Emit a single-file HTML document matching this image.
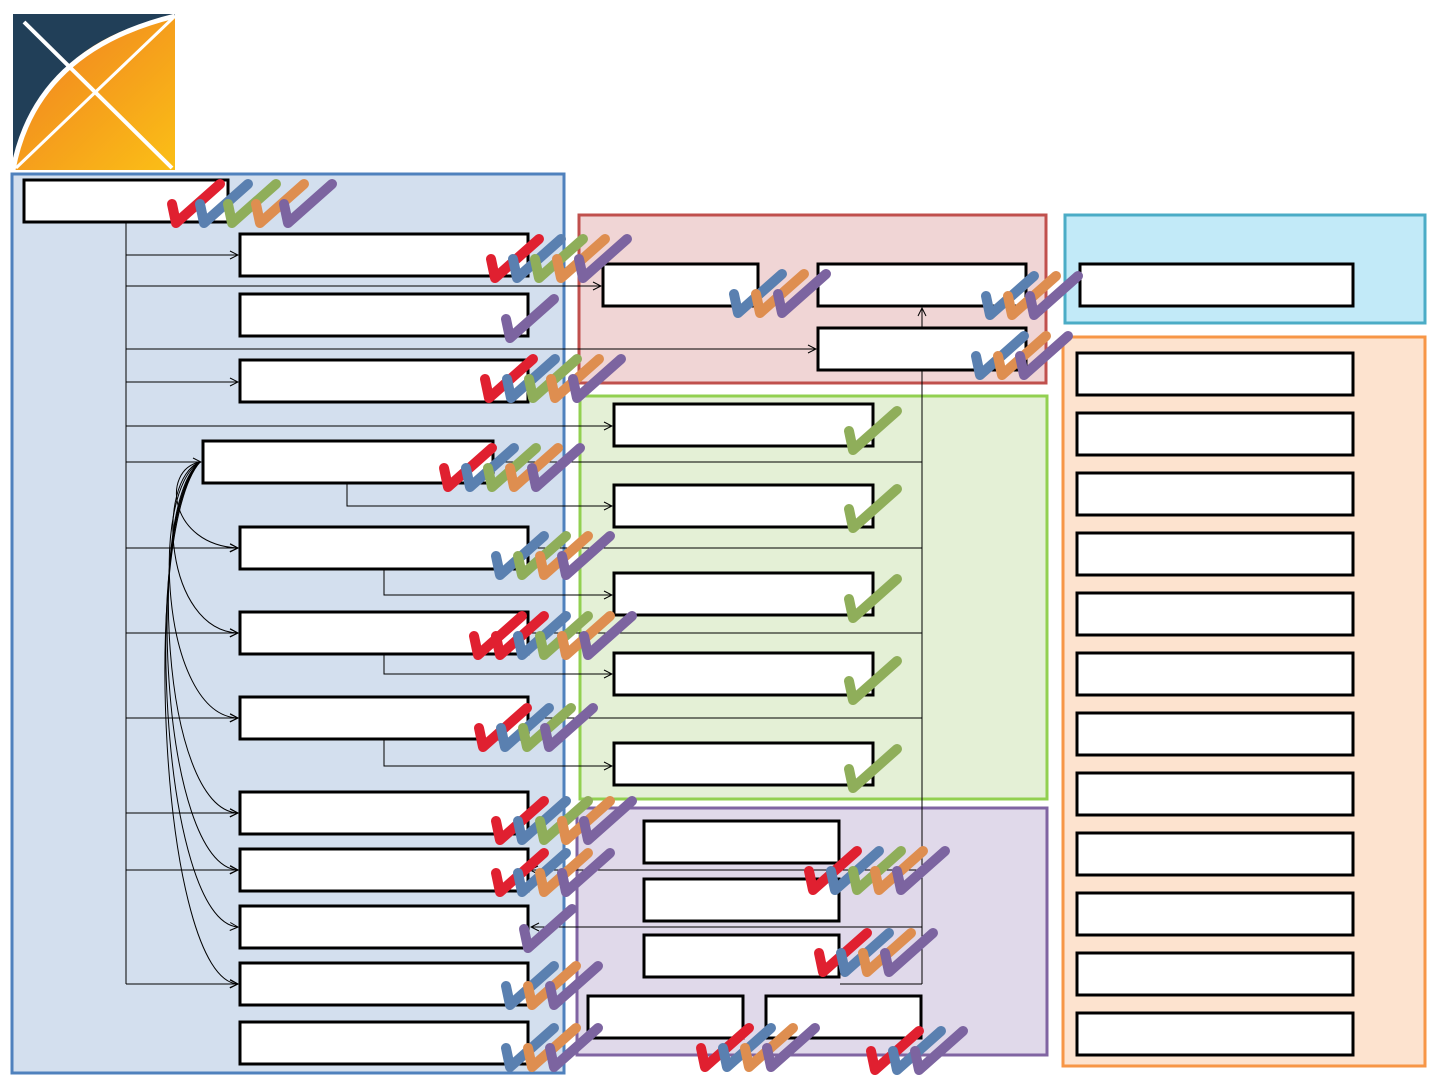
<!DOCTYPE html>
<html><head><meta charset="utf-8"><style>html,body{margin:0;padding:0;background:#fff;width:1440px;height:1080px;overflow:hidden}</style></head>
<body>
<svg width="1440" height="1080" viewBox="0 0 1440 1080" xmlns="http://www.w3.org/2000/svg" xmlns:xlink="http://www.w3.org/1999/xlink">
<defs>
<linearGradient id="og" x1="0" y1="0" x2="1" y2="1"><stop offset="0" stop-color="#ef7d22"/><stop offset="1" stop-color="#fbbf16"/></linearGradient>
<marker id="ar" markerWidth="10" markerHeight="10" refX="9" refY="5" orient="auto" markerUnits="userSpaceOnUse"><path d="M1,1 L9,5 L1,9" fill="none" stroke="#000" stroke-width="1"/></marker>
<path id="ck" d="M4,-24 L8,-5 L52,-44" fill="none" stroke-width="10" stroke-linecap="round" stroke-linejoin="round"/>
</defs>
<rect x="13" y="14" width="162" height="156" fill="#213f58"/>
<path d="M13,170 Q40,40 175,16 L175,170 Z" fill="url(#og)"/>
<path d="M13,170 Q35,50 175,16" fill="none" stroke="#fff" stroke-width="5"/>
<line x1="16" y1="168" x2="173" y2="18" stroke="#fff" stroke-width="3"/>
<line x1="24" y1="22" x2="172" y2="168" stroke="#fff" stroke-width="4"/>
<rect x="12" y="174" width="552" height="899" fill="#d3dfee" stroke="#4f81bd" stroke-width="3"/>
<rect x="579" y="215" width="467" height="168" fill="#f0d5d5" stroke="#c0504d" stroke-width="3"/>
<rect x="1065" y="215" width="360" height="108" fill="#c2eaf8" stroke="#4bacc6" stroke-width="3"/>
<rect x="1063" y="337" width="362" height="729" fill="#fde3cf" stroke="#f79646" stroke-width="3"/>
<rect x="580" y="396" width="467" height="403" fill="#e4f0d6" stroke="#92d050" stroke-width="3"/>
<rect x="577" y="808" width="470" height="247" fill="#e0d9ea" stroke="#8064a2" stroke-width="3"/>
<g stroke="#000" stroke-width="1" fill="none">
<line x1="126" y1="222" x2="126" y2="984"/>
<line x1="126" y1="255" x2="238" y2="255" marker-end="url(#ar)"/>
<line x1="126" y1="382" x2="238" y2="382" marker-end="url(#ar)"/>
<line x1="126" y1="548" x2="238" y2="548" marker-end="url(#ar)"/>
<line x1="126" y1="633" x2="238" y2="633" marker-end="url(#ar)"/>
<line x1="126" y1="718" x2="238" y2="718" marker-end="url(#ar)"/>
<line x1="126" y1="813" x2="238" y2="813" marker-end="url(#ar)"/>
<line x1="126" y1="870" x2="238" y2="870" marker-end="url(#ar)"/>
<line x1="126" y1="984" x2="238" y2="984" marker-end="url(#ar)"/>
<line x1="126" y1="286" x2="601" y2="286" marker-end="url(#ar)"/>
<line x1="126" y1="349" x2="816" y2="349" marker-end="url(#ar)"/>
<line x1="126" y1="426" x2="612" y2="426" marker-end="url(#ar)"/>
<line x1="126" y1="462" x2="201" y2="462" marker-end="url(#ar)"/>
<line x1="922" y1="984" x2="922" y2="308" marker-end="url(#ar)"/>
<line x1="922" y1="462" x2="493" y2="462"/>
<line x1="922" y1="548" x2="530" y2="548"/>
<line x1="922" y1="633" x2="530" y2="633"/>
<line x1="922" y1="718" x2="531" y2="718" marker-end="url(#ar)"/>
<line x1="922" y1="870" x2="530" y2="870" marker-end="url(#ar)"/>
<line x1="922" y1="927" x2="531" y2="927" marker-end="url(#ar)"/>
<line x1="922" y1="984" x2="840" y2="984"/>
<polyline points="347,483 347,506 612,506" marker-end="url(#ar)"/>
<polyline points="384,570 384,595 612,595" marker-end="url(#ar)"/>
<polyline points="384,655 384,674 612,674" marker-end="url(#ar)"/>
<polyline points="384,740 384,766 612,766" marker-end="url(#ar)"/>
<path d="M200,462 C160,470 170,545 238,548" marker-end="url(#ar)"/>
<path d="M200,462 C155,480 165,630 238,633" marker-end="url(#ar)"/>
<path d="M200,462 C150,490 160,715 238,718" marker-end="url(#ar)"/>
<path d="M200,462 C148,500 160,810 238,813" marker-end="url(#ar)"/>
<path d="M200,462 C145,510 160,866 238,870" marker-end="url(#ar)"/>
<path d="M200,462 C142,520 160,922 238,927" marker-end="url(#ar)"/>
<path d="M200,462 C140,530 160,980 238,984" marker-end="url(#ar)"/>
</g>
<g fill="#fff" stroke="#000" stroke-width="3">
<rect x="24" y="180" width="204" height="42"/>
<rect x="240" y="234" width="288" height="42"/>
<rect x="240" y="294" width="288" height="42"/>
<rect x="240" y="360" width="288" height="42"/>
<rect x="203" y="441" width="290" height="42"/>
<rect x="240" y="527" width="288" height="42"/>
<rect x="240" y="612" width="288" height="42"/>
<rect x="240" y="697" width="288" height="42"/>
<rect x="240" y="792" width="288" height="42"/>
<rect x="240" y="849" width="288" height="42"/>
<rect x="240" y="906" width="288" height="42"/>
<rect x="240" y="963" width="288" height="42"/>
<rect x="240" y="1022" width="288" height="42"/>
<rect x="603" y="264" width="155" height="42"/>
<rect x="818" y="264" width="208" height="42"/>
<rect x="818" y="328" width="208" height="42"/>
<rect x="1080" y="264" width="273" height="42"/>
<rect x="1077" y="353" width="276" height="42"/>
<rect x="1077" y="413" width="276" height="42"/>
<rect x="1077" y="473" width="276" height="42"/>
<rect x="1077" y="533" width="276" height="42"/>
<rect x="1077" y="593" width="276" height="42"/>
<rect x="1077" y="653" width="276" height="42"/>
<rect x="1077" y="713" width="276" height="42"/>
<rect x="1077" y="773" width="276" height="42"/>
<rect x="1077" y="833" width="276" height="42"/>
<rect x="1077" y="893" width="276" height="42"/>
<rect x="1077" y="953" width="276" height="42"/>
<rect x="1077" y="1013" width="276" height="42"/>
<rect x="614" y="404" width="259" height="42"/>
<rect x="614" y="485" width="259" height="42"/>
<rect x="614" y="573" width="259" height="42"/>
<rect x="614" y="653" width="259" height="42"/>
<rect x="614" y="743" width="259" height="42"/>
<rect x="644" y="821" width="195" height="42"/>
<rect x="644" y="879" width="195" height="42"/>
<rect x="644" y="935" width="195" height="42"/>
<rect x="588" y="996" width="155" height="42"/>
<rect x="766" y="996" width="155" height="42"/>
</g>
<g>
<use href="#ck" x="168" y="228" stroke="#e02030"/><use href="#ck" x="196" y="228" stroke="#5a80b0"/><use href="#ck" x="224" y="228" stroke="#8fae5a"/><use href="#ck" x="252" y="228" stroke="#de8e50"/><use href="#ck" x="280" y="228" stroke="#7c64a0"/>
<use href="#ck" x="487" y="283" stroke="#e02030"/><use href="#ck" x="509" y="283" stroke="#5a80b0"/><use href="#ck" x="531" y="283" stroke="#8fae5a"/><use href="#ck" x="553" y="283" stroke="#de8e50"/><use href="#ck" x="575" y="283" stroke="#7c64a0"/>
<use href="#ck" x="502" y="343" stroke="#7c64a0"/>
<use href="#ck" x="481" y="403" stroke="#e02030"/><use href="#ck" x="503" y="403" stroke="#5a80b0"/><use href="#ck" x="525" y="403" stroke="#8fae5a"/><use href="#ck" x="547" y="403" stroke="#de8e50"/><use href="#ck" x="569" y="403" stroke="#7c64a0"/>
<use href="#ck" x="440" y="492" stroke="#e02030"/><use href="#ck" x="462" y="492" stroke="#5a80b0"/><use href="#ck" x="484" y="492" stroke="#8fae5a"/><use href="#ck" x="506" y="492" stroke="#de8e50"/><use href="#ck" x="528" y="492" stroke="#7c64a0"/>
<use href="#ck" x="492" y="580" stroke="#5a80b0"/><use href="#ck" x="514" y="580" stroke="#8fae5a"/><use href="#ck" x="536" y="580" stroke="#de8e50"/><use href="#ck" x="558" y="580" stroke="#7c64a0"/>
<use href="#ck" x="470" y="660" stroke="#e02030"/><use href="#ck" x="492" y="660" stroke="#e02030"/><use href="#ck" x="514" y="660" stroke="#5a80b0"/><use href="#ck" x="536" y="660" stroke="#8fae5a"/><use href="#ck" x="558" y="660" stroke="#de8e50"/><use href="#ck" x="580" y="660" stroke="#7c64a0"/>
<use href="#ck" x="475" y="752" stroke="#e02030"/><use href="#ck" x="497" y="752" stroke="#5a80b0"/><use href="#ck" x="519" y="752" stroke="#8fae5a"/><use href="#ck" x="541" y="752" stroke="#7c64a0"/>
<use href="#ck" x="492" y="845" stroke="#e02030"/><use href="#ck" x="514" y="845" stroke="#5a80b0"/><use href="#ck" x="536" y="845" stroke="#8fae5a"/><use href="#ck" x="558" y="845" stroke="#de8e50"/><use href="#ck" x="580" y="845" stroke="#7c64a0"/>
<use href="#ck" x="492" y="897" stroke="#e02030"/><use href="#ck" x="514" y="897" stroke="#5a80b0"/><use href="#ck" x="536" y="897" stroke="#de8e50"/><use href="#ck" x="558" y="897" stroke="#7c64a0"/>
<use href="#ck" x="520" y="953" stroke="#7c64a0"/>
<use href="#ck" x="502" y="1010" stroke="#5a80b0"/><use href="#ck" x="524" y="1010" stroke="#de8e50"/><use href="#ck" x="546" y="1010" stroke="#7c64a0"/>
<use href="#ck" x="502" y="1072" stroke="#5a80b0"/><use href="#ck" x="524" y="1072" stroke="#de8e50"/><use href="#ck" x="546" y="1072" stroke="#7c64a0"/>
<use href="#ck" x="730" y="318" stroke="#5a80b0"/><use href="#ck" x="752" y="318" stroke="#de8e50"/><use href="#ck" x="774" y="318" stroke="#7c64a0"/>
<use href="#ck" x="982" y="320" stroke="#5a80b0"/><use href="#ck" x="1004" y="320" stroke="#de8e50"/><use href="#ck" x="1026" y="320" stroke="#7c64a0"/>
<use href="#ck" x="972" y="380" stroke="#5a80b0"/><use href="#ck" x="994" y="380" stroke="#de8e50"/><use href="#ck" x="1016" y="380" stroke="#7c64a0"/>
<use href="#ck" x="845" y="455" stroke="#8fae5a"/><use href="#ck" x="845" y="533" stroke="#8fae5a"/><use href="#ck" x="845" y="623" stroke="#8fae5a"/><use href="#ck" x="845" y="705" stroke="#8fae5a"/><use href="#ck" x="845" y="793" stroke="#8fae5a"/>
<use href="#ck" x="805" y="895" stroke="#e02030"/><use href="#ck" x="827" y="895" stroke="#5a80b0"/><use href="#ck" x="849" y="895" stroke="#8fae5a"/><use href="#ck" x="871" y="895" stroke="#de8e50"/><use href="#ck" x="893" y="895" stroke="#7c64a0"/>
<use href="#ck" x="815" y="977" stroke="#e02030"/><use href="#ck" x="837" y="977" stroke="#5a80b0"/><use href="#ck" x="859" y="977" stroke="#de8e50"/><use href="#ck" x="881" y="977" stroke="#7c64a0"/>
<use href="#ck" x="697" y="1072" stroke="#e02030"/><use href="#ck" x="719" y="1072" stroke="#5a80b0"/><use href="#ck" x="741" y="1072" stroke="#de8e50"/><use href="#ck" x="763" y="1072" stroke="#7c64a0"/>
<use href="#ck" x="867" y="1075" stroke="#e02030"/><use href="#ck" x="889" y="1075" stroke="#5a80b0"/><use href="#ck" x="911" y="1075" stroke="#7c64a0"/>
</g>
</svg>
</body></html>
